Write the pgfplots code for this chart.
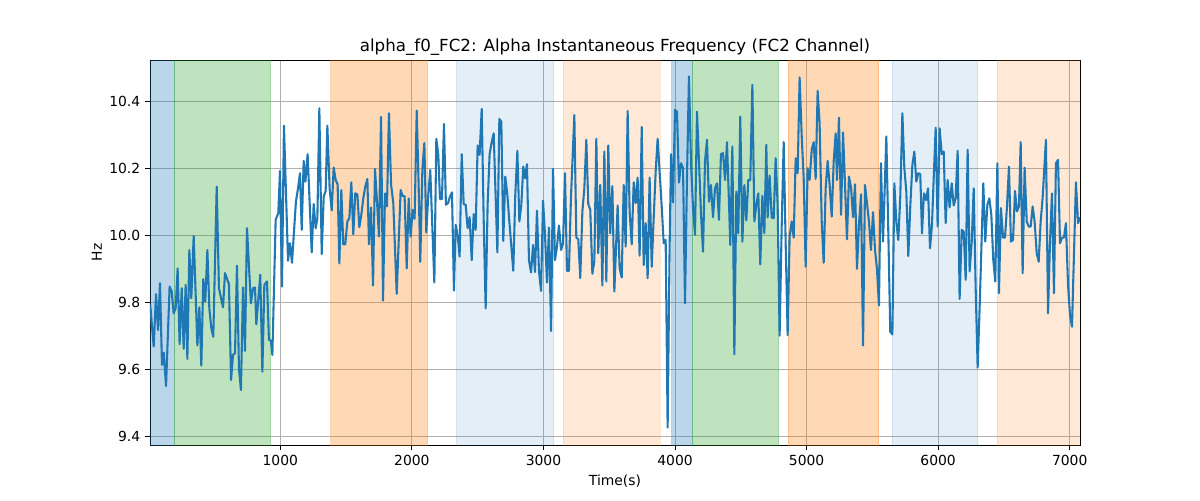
\documentclass[border=0pt]{standalone}
\usepackage{fontspec}
\setmainfont{DejaVu Sans}
\usepackage{pgfplots}
\pgfplotsset{compat=1.18}
\definecolor{mplblue}{HTML}{1F77B4}
\definecolor{mplgreen}{HTML}{2CA02C}
\definecolor{mplorange}{HTML}{FF7F0E}
\definecolor{gridgray}{HTML}{B0B0B0}

\pgfplotstableread{
x y
12 9.792
38 9.668
56 9.824
71 9.717
86 9.857
101 9.613
114 9.650
132 9.550
159 9.847
175 9.832
190 9.767
205 9.782
220 9.901
235 9.675
251 9.842
266 9.661
281 9.852
294 9.631
309 9.956
324 9.812
342 9.998
370 9.671
385 9.785
400 9.611
415 9.869
430 9.802
446 9.956
461 9.782
476 9.722
491 9.697
517 10.145
534 9.842
565 9.785
580 9.887
610 9.854
626 9.568
641 9.643
656 9.648
671 9.909
686 9.603
701 9.538
717 9.844
732 9.655
747 10.021
777 9.797
793 9.842
808 9.844
818 9.734
848 9.882
864 9.593
879 9.852
899 9.862
914 9.688
929 9.685
940 9.643
965 10.046
985 10.066
998 10.192
1013 9.847
1028 10.327
1059 9.924
1074 9.976
1089 9.918
1119 10.100
1135 10.140
1150 10.185
1163 10.016
1178 10.222
1191 10.160
1208 10.242
1239 9.949
1254 10.093
1269 10.021
1282 10.051
1297 10.379
1315 9.944
1330 10.115
1345 10.132
1358 10.327
1375 10.140
1391 10.074
1406 10.202
1421 10.165
1436 10.152
1449 9.916
1464 10.135
1479 9.973
1494 9.973
1510 10.041
1525 10.051
1540 10.158
1555 10.003
1570 10.125
1586 10.122
1601 10.024
1616 10.061
1631 10.110
1646 10.145
1662 10.168
1674 9.973
1690 10.083
1705 9.850
1720 10.198
1735 10.102
1750 9.996
1766 10.353
1781 9.805
1796 10.125
1811 10.086
1826 10.364
1842 10.152
1859 10.096
1885 9.825
1915 10.135
1930 10.117
1945 10.117
1961 9.901
1976 10.110
1991 9.996
2006 10.076
2021 10.049
2037 10.372
2052 10.142
2064 9.921
2080 10.195
2095 10.275
2110 10.008
2125 10.120
2140 10.195
2156 10.021
2171 9.859
2186 10.288
2201 10.240
2214 10.108
2229 10.108
2244 10.332
2259 10.091
2275 10.096
2290 10.115
2305 10.128
2320 9.835
2333 10.031
2348 10.001
2363 9.936
2379 10.242
2394 10.093
2409 10.091
2424 10.021
2439 10.054
2455 9.926
2470 10.063
2485 10.016
2500 10.268
2515 10.240
2531 10.377
2546 10.046
2561 9.782
2576 10.093
2591 10.242
2607 10.278
2622 10.304
2650 9.949
2665 10.347
2680 10.339
2695 9.983
2710 10.175
2726 10.120
2741 10.041
2771 9.894
2786 10.120
2802 10.252
2817 10.041
2832 10.091
2847 10.205
2860 10.170
2875 10.212
2890 9.926
2906 9.889
2921 9.971
2936 9.890
2951 10.073
2966 9.894
2982 9.834
2997 10.103
3012 10.001
3027 9.859
3042 10.023
3058 9.714
3073 10.198
3088 9.926
3103 9.966
3118 10.029
3134 9.956
3149 9.976
3164 10.185
3179 9.894
3194 9.894
3209 10.110
3235 10.359
3250 9.993
3265 9.988
3280 9.872
3296 10.071
3311 10.140
3326 10.285
3341 10.093
3356 10.076
3372 9.885
3387 9.923
3402 10.288
3417 9.946
3432 10.150
3448 9.850
3463 10.250
3478 9.862
3493 10.268
3508 10.006
3524 10.147
3539 9.832
3564 10.089
3579 9.901
3595 9.874
3610 10.150
3625 9.966
3640 10.371
3655 10.071
3671 9.973
3686 10.158
3701 10.096
3716 10.172
3731 9.939
3747 10.323
3762 9.911
3777 10.036
3792 9.872
3807 10.172
3823 9.906
3838 10.051
3853 10.190
3868 10.288
3883 10.190
3899 10.086
3914 9.976
3929 9.986
3944 9.426
3959 9.963
3970 10.242
3985 10.098
4000 10.374
4015 10.369
4030 10.157
4046 10.215
4061 10.200
4076 9.797
4091 10.170
4106 10.474
4122 10.210
4137 10.081
4152 10.001
4167 10.369
4182 10.222
4198 10.061
4213 9.951
4228 10.220
4243 10.285
4258 10.100
4273 10.150
4289 10.054
4304 10.140
4319 10.155
4334 10.046
4349 10.242
4365 10.245
4380 10.165
4395 10.278
4410 10.100
4420 9.971
4436 10.265
4451 9.645
4466 10.130
4481 10.006
4496 10.354
4512 9.981
4527 10.150
4542 10.044
4557 10.165
4572 10.165
4588 10.449
4603 10.041
4618 10.091
4633 10.125
4648 9.913
4664 10.118
4679 10.006
4694 10.270
4704 10.053
4719 10.178
4735 10.053
4750 10.051
4765 10.230
4780 10.091
4795 9.700
4811 10.031
4826 10.278
4841 9.976
4856 9.702
4871 9.996
4887 10.041
4902 9.993
4917 10.230
4932 10.185
4947 10.471
4963 10.295
4978 10.170
4993 9.906
5008 10.200
5023 10.165
5039 10.255
5054 10.278
5069 10.168
5084 10.431
5099 10.334
5115 10.041
5130 9.918
5145 10.140
5160 10.222
5175 10.150
5191 10.056
5206 10.220
5221 10.304
5231 10.165
5246 10.351
5262 10.061
5277 10.307
5292 10.150
5307 9.988
5322 10.175
5338 10.142
5353 10.054
5368 10.152
5383 9.900
5398 10.031
5414 10.122
5429 9.671
5444 10.150
5459 10.096
5474 10.041
5489 9.956
5505 10.069
5520 9.956
5535 9.899
5550 9.790
5565 10.215
5581 9.981
5606 10.295
5621 10.011
5636 9.712
5652 9.704
5667 10.155
5682 10.041
5697 9.986
5712 10.115
5728 10.364
5743 10.200
5758 10.130
5773 9.938
5788 10.086
5804 10.210
5819 10.250
5834 10.160
5849 10.185
5864 10.182
5877 10.006
5892 10.125
5908 10.105
5923 10.140
5938 9.961
5953 10.031
5968 10.190
5981 10.321
5996 10.026
6011 10.319
6027 10.242
6042 10.250
6057 10.036
6072 10.165
6087 10.083
6103 10.155
6118 10.089
6133 10.110
6148 10.252
6163 9.810
6179 10.016
6194 10.011
6209 9.867
6224 10.255
6239 9.892
6255 9.981
6270 10.140
6285 9.842
6300 9.605
6315 9.782
6343 10.155
6358 9.981
6374 10.091
6389 10.110
6404 10.061
6419 9.926
6434 9.862
6450 10.215
6462 9.827
6477 10.081
6493 9.993
6508 9.993
6523 10.086
6538 10.205
6553 9.981
6569 9.986
6584 10.132
6599 10.071
6614 10.086
6627 10.278
6642 9.887
6657 10.202
6673 10.041
6688 10.026
6703 10.026
6718 10.086
6733 10.041
6749 9.946
6764 9.921
6779 10.041
6794 10.112
6819 10.285
6835 9.767
6850 9.981
6865 10.125
6880 9.827
6895 10.215
6911 10.225
6926 9.976
6941 9.993
6956 9.993
6971 10.036
6987 9.852
7002 9.762
7017 9.727
7032 9.941
7047 10.158
7063 10.036
7078 10.053
}\freqdata

\begin{document}
\begin{tikzpicture}
\useasboundingbox (-108pt,-39.6pt) rectangle (756pt,320.4pt);
\begin{axis}[
  at={(0,0)}, anchor=south west,
  scale only axis, width=669.6pt, height=277.2pt,
  xmin=10, xmax=7078, ymin=9.374, ymax=10.523,
  xtick={1000,2000,3000,4000,5000,6000,7000},
  ytick={9.4,9.6,9.8,10.0,10.2,10.4},
  x tick label style={/pgf/number format/.cd, set thousands separator={}, assume math mode=true},
  y tick label style={/pgf/number format/.cd, fixed, fixed zerofill, precision=1, assume math mode=true},
  tick label style={font=\fontsize{10}{12}\selectfont},
  tick align=outside, major tick length=3.5pt,
  xtick pos=bottom, ytick pos=left,
  tick style={black, line width=0.58pt},
  axis line style={line width=0.58pt},
  grid=major, major grid style={gridgray, line width=0.58pt},
  title={alpha\_f0\_FC2: Alpha Instantaneous Frequency (FC2 Channel)},
  title style={font=\fontsize{12}{14}\selectfont, at={(axis description cs:0.5,1)}, anchor=base, yshift=0.4pt},
  xlabel={Time(s)},
  xlabel style={font=\fontsize{10}{12}\selectfont, at={(axis description cs:0.5,0)}, anchor=base, yshift=-29.5pt},
  ylabel={Hz},
  ylabel style={font=\fontsize{10}{12}\selectfont, at={(axis description cs:-0.0517,0.5)}, anchor=base},
]
% shaded segments
\addplot[draw=mplblue, fill=mplblue, opacity=0.3, line width=0.7pt] coordinates {(0,9.2) (194,9.2) (194,10.7) (0,10.7) (0,9.2)};
\addplot[draw=mplgreen, fill=mplgreen, opacity=0.3, line width=0.7pt] coordinates {(194,9.2) (927,9.2) (927,10.7) (194,10.7) (194,9.2)};
\addplot[draw=mplorange, fill=mplorange, opacity=0.3, line width=0.7pt] coordinates {(1385,9.2) (2120,9.2) (2120,10.7) (1385,10.7) (1385,9.2)};
\addplot[draw=mplblue, fill=mplblue, opacity=0.12, line width=0.7pt] coordinates {(2338,9.2) (3080,9.2) (3080,10.7) (2338,10.7) (2338,9.2)};
\addplot[draw=mplorange, fill=mplorange, opacity=0.17, line width=0.7pt] coordinates {(3149,9.2) (3886,9.2) (3886,10.7) (3149,10.7) (3149,9.2)};
\addplot[draw=mplblue, fill=mplblue, opacity=0.3, line width=0.7pt] coordinates {(3977,9.2) (4131,9.2) (4131,10.7) (3977,10.7) (3977,9.2)};
\addplot[draw=mplgreen, fill=mplgreen, opacity=0.3, line width=0.7pt] coordinates {(4131,9.2) (4788,9.2) (4788,10.7) (4131,10.7) (4131,9.2)};
\addplot[draw=mplorange, fill=mplorange, opacity=0.3, line width=0.7pt] coordinates {(4859,9.2) (5550,9.2) (5550,10.7) (4859,10.7) (4859,9.2)};
\addplot[draw=mplblue, fill=mplblue, opacity=0.12, line width=0.7pt] coordinates {(5649,9.2) (6302,9.2) (6302,10.7) (5649,10.7) (5649,9.2)};
\addplot[draw=mplorange, fill=mplorange, opacity=0.17, line width=0.7pt] coordinates {(6447,9.2) (7200,9.2) (7200,10.7) (6447,10.7) (6447,9.2)};
% signal
\addplot[mplblue, line width=1.5pt, line join=round, no markers] table[x=x, y=y] {\freqdata};
\end{axis}
\end{tikzpicture}
\end{document}
